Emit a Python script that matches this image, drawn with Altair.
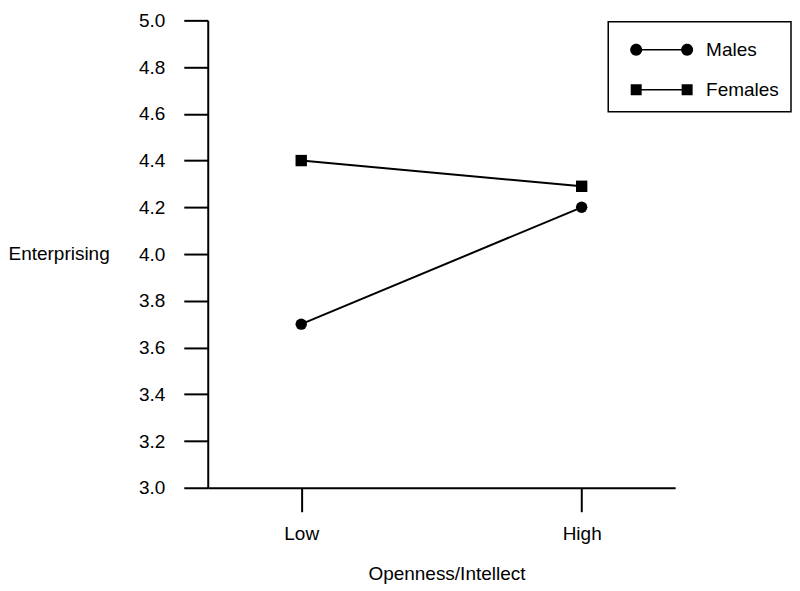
import altair as alt
import pandas as pd

# ---- data ----
levels = ["Low", "High"]
groups = ["Males", "Females"]
males = [3.70, 4.20]
females = [4.40, 4.29]
y_ticks = [3.0, 3.2, 3.4, 3.6, 3.8, 4.0, 4.2, 4.4, 4.6, 4.8, 5.0]

rows = []
for g, vals in zip(groups, [males, females]):
    for lv, v in zip(levels, vals):
        rows.append({"level": lv, "group": g, "value": v})
df = pd.DataFrame(rows)

FONT = "Liberation Sans"
FS = 19

# legend glyphs: marker - line - marker. Symbol size 1024 -> 16 px per unit.
U = 16.0
r = 6.0 / U
c = 25.5 / U
h = 0.8 / U
s = 5.5 / U
def circ(cx):
    return (f"M{cx - r:.4f},0 A{r:.4f},{r:.4f} 0 1 1 {cx + r:.4f},0 "
            f"A{r:.4f},{r:.4f} 0 1 1 {cx - r:.4f},0 Z ")
def sq(cx):
    return (f"M{cx - s:.4f},{-s:.4f} L{cx + s:.4f},{-s:.4f} "
            f"L{cx + s:.4f},{s:.4f} L{cx - s:.4f},{s:.4f} Z ")
bar = f"M{-c:.4f},{-h:.4f} L{c:.4f},{-h:.4f} L{c:.4f},{h:.4f} L{-c:.4f},{h:.4f} Z "
male_path = circ(-c) + bar + circ(c)
female_path = sq(-c) + bar + sq(c)

x_enc = alt.X(
    "level:N",
    sort=levels,
    scale=alt.Scale(type="point", domain=levels, padding=1 / 3),
    axis=alt.Axis(
        title="Openness/Intellect",
        labelAngle=0,
        tickSize=24,
        labelPadding=13,
        titleBaseline="alphabetic",
        titleY=92,
        titleX=239,
    ),
)
y_enc = alt.Y(
    "value:Q",
    scale=alt.Scale(domain=[3, 5], nice=False, zero=False),
    axis=alt.Axis(
        values=y_ticks,
        format=".1f",
        tickSize=24,
        labelPadding=19,
        grid=False,
        title="Enterprising",
        titleAngle=0,
        titleAlign="left",
        titleBaseline="alphabetic",
        titleX=-200,
        titleY=239,
    ),
)

base = alt.Chart(df)

lines = base.mark_line(color="black", strokeWidth=2).encode(
    x=x_enc, y=y_enc, detail="group:N"
)

points = base.mark_point(filled=True, color="black", opacity=1, size=130).encode(
    x=x_enc,
    y=y_enc,
    shape=alt.Shape(
        "group:N",
        scale=alt.Scale(domain=groups, range=["circle", "square"]),
        legend=None,
    ),
)

legend_layer = base.mark_point(filled=True, color="black", opacity=0).encode(
    x=x_enc,
    y=y_enc,
    shape=alt.Shape(
        "group:N",
        scale=alt.Scale(domain=groups, range=[male_path, female_path]),
        legend=alt.Legend(
            title=None,
            orient="none",
            legendX=401,
            legendY=1.5,
            padding=12,
            symbolOffset=25.5,
            labelOffset=28.5,
            symbolSize=1024,
            symbolStrokeWidth=0,
            symbolFillColor="black",
            symbolOpacity=1,
            strokeColor="black",
            labelFont=FONT,
            labelFontSize=FS,
            labelColor="black",
            rowPadding=14,
        ),
    ),
)

chart = (
    alt.layer(lines, points, legend_layer)
    .resolve_scale(shape="independent")
    .properties(width=468, height=468, padding={"left": 0, "top": 3, "right": 0, "bottom": 0})
    .configure_view(stroke=None)
    .configure_axis(
        labelFont=FONT,
        titleFont=FONT,
        labelFontSize=FS,
        titleFontSize=FS,
        labelColor="black",
        titleColor="black",
        titleFontWeight="normal",
        domainColor="black",
        tickColor="black",
        domainWidth=2,
        tickWidth=2,
    )
    .configure_legend(strokeWidth=1.5)
)

chart.save("out.html", embed_options={"renderer": "svg", "actions": False})
